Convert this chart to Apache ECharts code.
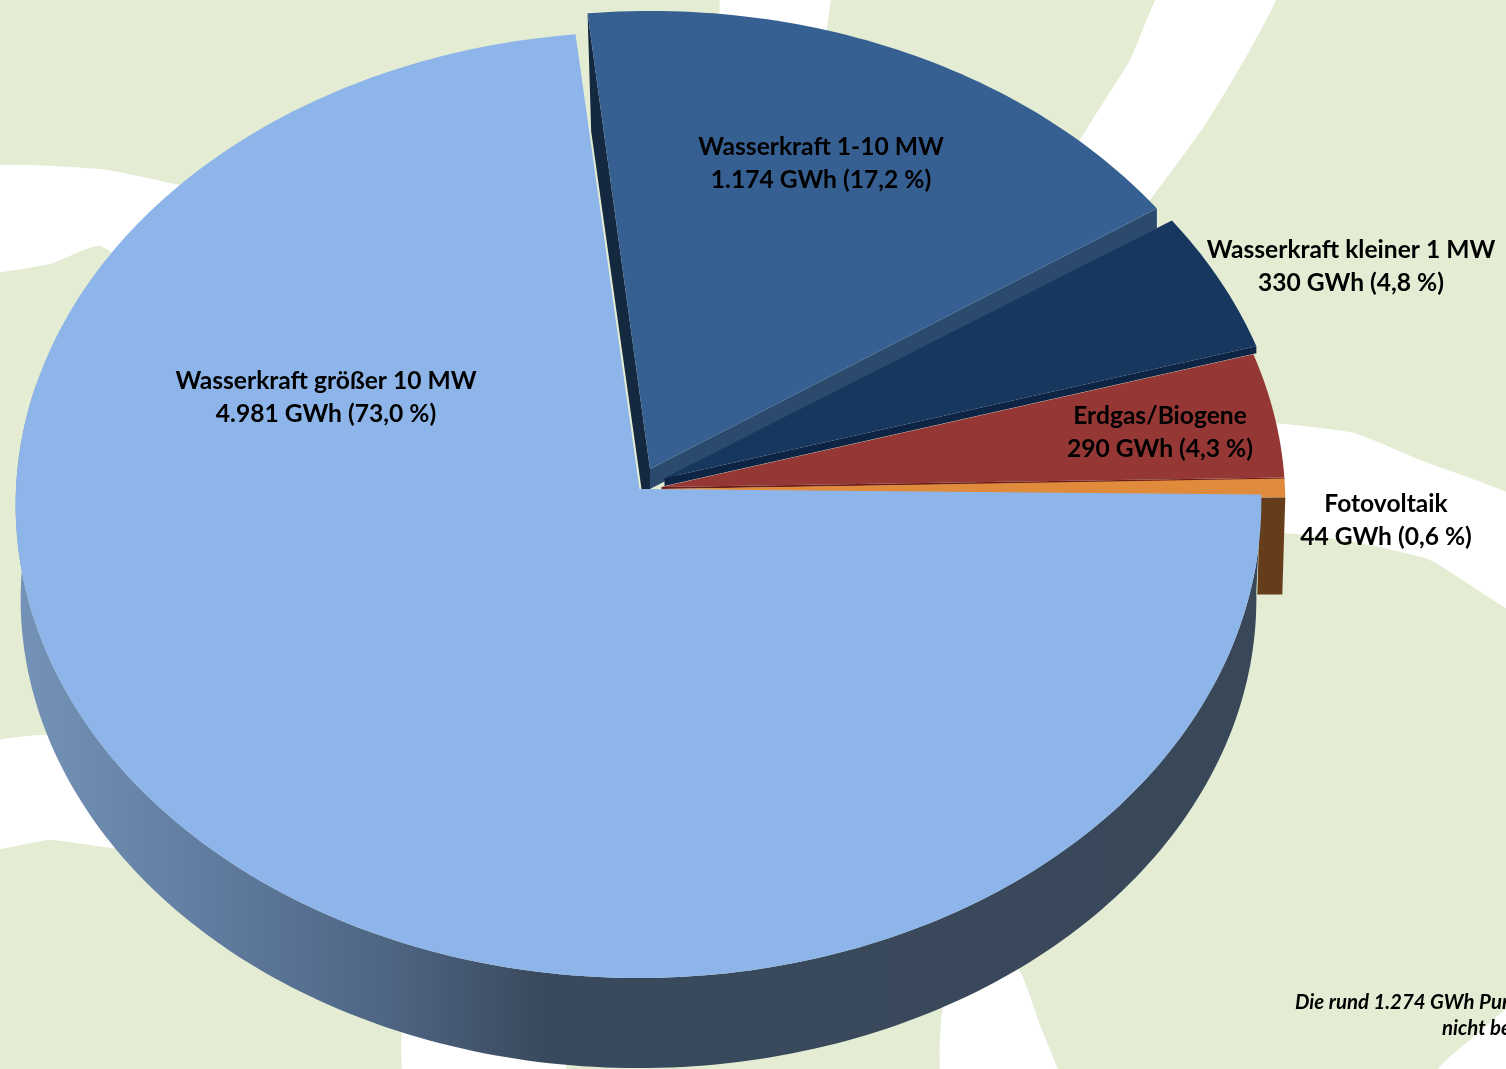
<!DOCTYPE html>
<html><head><meta charset="utf-8">
<style>html,body{margin:0;padding:0;background:#E4EDD4;overflow:hidden}#c{width:1506px;height:1069px}</style>
<script src="https://cdn.jsdelivr.net/npm/echarts@6/dist/echarts.min.js"></script>
</head><body><div id="c"></div>
<script>
// --- data ---
const categories = ['Wasserkraft 1-10 MW','Wasserkraft kleiner 1 MW','Erdgas/Biogene','Fotovoltaik','Wasserkraft größer 10 MW'];
const valuesGWh  = [1174,330,290,44,4981];
const valueText  = ['1.174 GWh (17,2 %)','330 GWh (4,8 %)','290 GWh (4,3 %)','44 GWh (0,6 %)','4.981 GWh (73,0 %)'];
const noteLines  = ['Die rund 1.274 GWh Pur','nicht be'];

// --- layout and style (pie projection) ---
const X0=638.5, Y0=489, RX=622.5, RY=472.5, K=0.0338, DEPTH=97, START=96;
const topColors  = ['#376092','#17375E','#953735','#E08A3C','#8DB5E9'];
const edgeColors = ['#2B4A6E','#0E2444','#6A1C1A','#E08A3C',null];
const rimOffset  = [[12,-21],[27,-9],[24,-1],[24,0],[0,-3]];
const apexOffset = [[11.5,-20],[26,-11],[23,-2],[23,0],[1,0]];
const edgeDrop   = [[20,20],[8,7],[2,2],[1,0],[0,0]];
const labelPos   = [[821,164],[1351,267],[1160,433],[1386,521],[326,398]];
const bgRoads = [
 [[725,-30],[830,-30],[815,70],[725,70]],
 [[1168,-20],[1282,-20],[1250,50],[1205,125],[1150,200],[1100,260],[1060,180],[1130,60]],
 [[-30,169],[100,169],[170,183],[270,210],[200,310],[100,246],[50,264],[-30,272]],
 [[-30,748],[40,735],[130,740],[160,850],[50,840],[-30,851]],
 [[1200,423],[1350,432],[1420,460],[1540,510],[1540,625],[1430,560],[1350,541],[1285,533],[1200,533]],
 [[408,1000],[560,1000],[560,1100],[408,1100]],
 [[945,1100],[945,1000],[1015,965],[1040,1025],[1065,1100]],
 [[1438,1069],[1470,1040],[1540,985],[1540,1100],[1438,1100]]
];

const total = valuesGWh.reduce((a,b)=>a+b,0);
const rad = d => d*Math.PI/180;
function project(t,off,scale,drop){
  const s=Math.sin(rad(t)),c=Math.cos(rad(t)),d=1+K*s;
  return [X0+off[0]+scale*RX*c/d, Y0+off[1]+(drop||0)-scale*RY*s/d];
}
function arc(t0,t1,off,scale,drop){
  const pts=[],n=Math.max(2,Math.ceil(Math.abs(t1-t0)));
  for(let i=0;i<=n;i++) pts.push(project(t0+(t1-t0)*i/n,off,scale,drop));
  return pts;
}
const poly=(points,fill,z2)=>({type:'polygon',z2:z2,shape:{points:points},style:{fill:fill}});
const sideGradient=new echarts.graphic.LinearGradient(0,0,1,0,[
  {offset:0,color:'#7593B8'},{offset:.15,color:'#617DA1'},{offset:.3,color:'#4E6583'},
  {offset:.42,color:'#3A4A5E'},{offset:1,color:'#384859'}]);

function renderSlice(params,api){
  const i=params.dataIndex;
  let t0=START;
  for(let j=0;j<i;j++) t0-=valuesGWh[j]/total*360;
  const t1=t0-api.value(0)/total*360;
  const off=rimOffset[i], apexO=apexOffset[i];
  const apex=[X0+apexO[0],Y0+apexO[1]];
  // the main slice's near rim sits a little higher; the offset fades out quickly along the rim
  const rim=i===4 ? arc(t0,t1,[0,0],1).map((p,n,all)=>[p[0],p[1]+off[1]*Math.max(0,1-n/40)]) : arc(t0,t1,off,1);
  const end=rim[rim.length-1], kids=[];
  const z=2+i;
  if(i===4){
    // outer wall of the main slice
    const a=rim.slice(0,193), b=arc(t0-192,t0,[0,0],0.992,DEPTH-3);
    kids.push(poly(a.concat(b),sideGradient,1));
    kids.push(poly([apex].concat(rim),topColors[i],10));
  } else {
    if(i===0){ // cut face on the left of the lifted slice, stops just short of the main slice
      const tip=project(START,[0,0],1), f=0.787;
      const bend=[X0+1+(tip[0]-X0-1)*f+2, Y0+(tip[1]-Y0)*f];
      kids.push(poly([rim[0],apex,[apex[0],apex[1]+edgeDrop[0][0]],[X0+3,Y0],bend],'#14293F',z));
    }
    kids.push(poly([apex,end,[end[0],end[1]+edgeDrop[i][1]],[apex[0],apex[1]+edgeDrop[i][0]]],edgeColors[i],z));
    kids.push(poly([apex].concat(rim),topColors[i],z));
    if(i===3){ // cut face below the photovoltaic slice
      kids.push(poly([[end[0]-25,end[1]],end,[end[0]-3,end[1]+DEPTH],[end[0]-28,end[1]+DEPTH]],'#653D1A',8));
    }
  }
  kids.push({type:'text',z2:20,style:{
    text:categories[i]+'\n'+valueText[i],x:labelPos[i][0],y:labelPos[i][1],
    align:'center',verticalAlign:'middle',textAlign:'center',textVerticalAlign:'middle',
    fontFamily:'Lato',fontWeight:'bold',fontSize:24.6,lineHeight:33,fill:'#000'}});
  return {type:'group',children:kids};
}

const chart=echarts.init(document.getElementById('c'),null,{renderer:'canvas'});
chart.setOption({
  animation:false,
  backgroundColor:'#E4EDD4',
  graphic:{elements:bgRoads.map(p=>({type:'polygon',z:0,silent:true,shape:{points:p,smooth:0.15},style:{fill:'#fff'}})).concat(
    noteLines.map((s,i)=>({type:'text',z:1,silent:true,style:{
      text:s,x:i?1442:1295,y:i?1028:1002,align:'left',verticalAlign:'middle',textVerticalAlign:'middle',
      fontFamily:'Lato',fontWeight:'bold',fontStyle:'italic',fontSize:20.4,fill:'#000'}})))},
  series:[{type:'custom',coordinateSystem:'none',silent:true,clip:false,
    renderItem:renderSlice,data:valuesGWh.map(v=>[v])}]
});
</script></body></html>
